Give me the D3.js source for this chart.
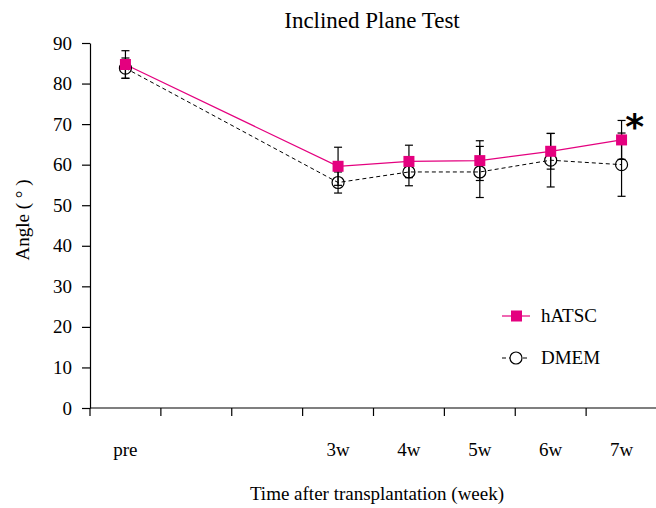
<!DOCTYPE html>
<html>
<head>
<meta charset="utf-8">
<script src="https://cdn.jsdelivr.net/npm/d3@7"></script>
<style>
  body { margin: 0; background: #fff; }
  text { font-family: "Liberation Serif", "Times New Roman", serif; }
  .axis path, .axis line { stroke: #000; stroke-width: 1.2; }
</style>
</head>
<body>
<svg id="chart"></svg>
<script>
// slots on the x axis (two blank slots between pre and 3w)
var slotLabels = ["pre", "", "", "3w", "4w", "5w", "6w", "7w"];
var slots = [0, 3, 4, 5, 6, 7];
var yTicks = [0, 10, 20, 30, 40, 50, 60, 70, 80, 90];

var hatscMean = [84.7, 59.6, 60.8, 61.0, 63.3, 66.1];
var hatscErr  = [3.4, 4.7, 4.0, 4.9, 4.4, 4.8];
var dmemMean  = [83.8, 55.6, 58.2, 58.2, 61.1, 60.0];
var dmemErr   = [2.5, 2.6, 3.4, 6.3, 6.6, 7.8];

var pink = "#e4007f";

var W = 656, H = 508;
var margin = {top: 43, right: -1, bottom: 100, left: 90},
    width = W - margin.left - margin.right,
    height = H - margin.top - margin.bottom;

var svg = d3.select("#chart").attr("width", W).attr("height", H);
var g = svg.append("g").attr("transform", "translate(" + margin.left + "," + margin.top + ")");

var x = d3.scaleBand().domain(d3.range(slotLabels.length)).range([0, width]);
var y = d3.scaleLinear().domain([0, 90]).range([height, 0]);
var cx = function(i) { return x(i) + x.bandwidth() / 2; };

// x axis: ticks at band edges, labels at band centers
var xEdges = d3.range(slotLabels.length + 1).map(function(i) { return i * x.bandwidth(); });
var xAxisG = g.append("g").attr("class", "axis").attr("transform", "translate(0," + height + ")");
xAxisG.append("line").attr("x1", 0).attr("x2", width).attr("stroke", "#000").attr("stroke-width", 1.2);
xAxisG.selectAll(".tk").data(xEdges).enter().append("line")
  .attr("x1", function(d) { return d; }).attr("x2", function(d) { return d; })
  .attr("y1", 0).attr("y2", 8).attr("stroke", "#000").attr("stroke-width", 1.2);
xAxisG.selectAll(".lbl").data(slotLabels).enter().append("text")
  .attr("x", function(d, i) { return cx(i); })
  .attr("y", 48)
  .attr("text-anchor", "middle")
  .style("font-size", "19px")
  .text(function(d) { return d; });

// y axis
var yAxis = d3.axisLeft(y).tickValues(yTicks).tickSize(8).tickPadding(10).tickSizeOuter(0);
var yAxisG = g.append("g").attr("class", "axis").call(yAxis);
yAxisG.selectAll("text").style("font-size", "19px").style("font-family", "'Liberation Serif', serif");

// lines
var line = d3.line().x(function(d) { return cx(d[0]); }).y(function(d) { return y(d[1]); });
var dmemPts = slots.map(function(s, i) { return [s, dmemMean[i]]; });
var hatscPts = slots.map(function(s, i) { return [s, hatscMean[i]]; });

g.append("path").datum(dmemPts).attr("d", line)
  .attr("fill", "none").attr("stroke", "#000").attr("stroke-width", 1).attr("stroke-dasharray", "4,3");
g.append("path").datum(hatscPts).attr("d", line)
  .attr("fill", "none").attr("stroke", pink).attr("stroke-width", 1.2);

// error bars
function errBars(means, errs) {
  var eg = g.append("g");
  slots.forEach(function(s, i) {
    var x0 = cx(s), top = y(means[i] + errs[i]), bot = y(means[i] - errs[i]);
    eg.append("line").attr("x1", x0).attr("x2", x0).attr("y1", top).attr("y2", bot)
      .attr("stroke", "#000").attr("stroke-width", 1.2);
    [top, bot].forEach(function(v) {
      eg.append("line").attr("x1", x0 - 4).attr("x2", x0 + 4).attr("y1", v).attr("y2", v)
        .attr("stroke", "#000").attr("stroke-width", 1.2);
    });
  });
}
errBars(dmemMean, dmemErr);
errBars(hatscMean, hatscErr);

// markers
g.selectAll(".dm").data(dmemPts).enter().append("circle")
  .attr("cx", function(d) { return cx(d[0]); }).attr("cy", function(d) { return y(d[1]); })
  .attr("r", 6).attr("fill", "none").attr("stroke", "#000").attr("stroke-width", 1.2);
g.selectAll(".ha").data(hatscPts).enter().append("rect")
  .attr("x", function(d) { return cx(d[0]) - 5.5; }).attr("y", function(d) { return y(d[1]) - 5.5; })
  .attr("width", 11).attr("height", 11).attr("fill", pink);

// significance star at 7w
g.append("text")
  .attr("x", cx(7) + 13).attr("y", y(hatscMean[5] + hatscErr[5]) + 19)
  .attr("text-anchor", "middle")
  .style("font-size", "36px").style("font-weight", "bold")
  .style("font-family", "'DejaVu Sans', sans-serif")
  .text("*");

// legend
var legend = svg.append("g").attr("transform", "translate(502,316)");
legend.append("line").attr("x1", 0).attr("x2", 28).attr("stroke", pink).attr("stroke-width", 1.2);
legend.append("rect").attr("x", 9).attr("y", -5.5).attr("width", 11).attr("height", 11).attr("fill", pink);
legend.append("text").attr("x", 39).attr("y", 6).style("font-size", "19px").text("hATSC");
var legend2 = svg.append("g").attr("transform", "translate(502,358)");
legend2.append("line").attr("x1", 0).attr("x2", 28).attr("stroke", "#000").attr("stroke-width", 1).attr("stroke-dasharray", "4,3");
legend2.append("circle").attr("cx", 14).attr("cy", 0).attr("r", 6).attr("fill", "#fff").attr("stroke", "#000").attr("stroke-width", 1.2);
legend2.append("text").attr("x", 39).attr("y", 6).style("font-size", "19px").text("DMEM");

// titles
svg.append("text").attr("x", 372).attr("y", 28).attr("text-anchor", "middle")
  .style("font-size", "23px").text("Inclined Plane Test");
svg.append("text").attr("x", 377).attr("y", 500).attr("text-anchor", "middle")
  .style("font-size", "19px").text("Time after transplantation (week)");
svg.append("text").attr("transform", "translate(29,220) rotate(-90)").attr("text-anchor", "middle")
  .style("font-size", "19px").text("Angle ( ° )");
</script>
</body>
</html>
